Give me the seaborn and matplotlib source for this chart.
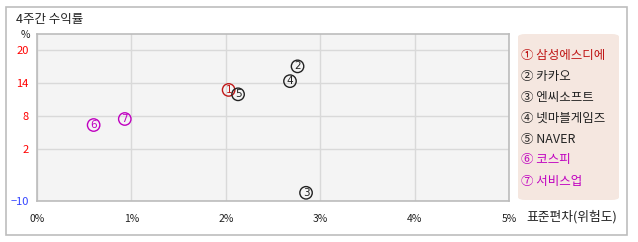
import numpy as np
import pandas as pd
import matplotlib
matplotlib.use("Agg")
import matplotlib.pyplot as plt
from matplotlib.patches import FancyBboxPatch, Rectangle
import seaborn as sns

names = ["삼성에스디에", "카카오", "엔씨소프트", "넷마블게임즈", "NAVER", "코스피", "서비스업"]
marks = ["①", "②", "③", "④", "⑤", "⑥", "⑦"]
digits = ["1", "2", "3", "4", "5", "6", "7"]
risk = [2.03, 2.76, 2.85, 2.68, 2.13, 0.60, 0.93]
ret = [12.8, 17.1, -8.1, 14.4, 12.0, 6.4, 7.5]
colors = ["#c01818", "#222222", "#222222", "#222222", "#222222", "#c000c0", "#c000c0"]
yticks = [20, 14, 8, 2, -10]
ytick_colors = ["#ff0000", "#ff0000", "#ff0000", "#ff0000", "#3344ff"]
xticks = [0, 1, 2, 3, 4, 5]
xticklabels = ["0%", "1%", "2%", "3%", "4%", "5%"]

sns.set_style("white")
plt.rcParams["font.family"] = ["Noto Sans CJK KR", "DejaVu Sans"]

df = pd.DataFrame({"name": names, "risk": risk, "ret": ret})

fig = plt.figure(figsize=(6.38, 2.42), dpi=100)
W, H = 638, 242
# outer border
fig.patches.append(Rectangle((6 / W, 1 - 235 / H), 621 / W, 228 / H, transform=fig.transFigure,
                             fill=False, edgecolor="#bdbdbd", linewidth=1.2))
# legend box
fig.patches.append(FancyBboxPatch((518 / W, 1 - 200 / H), 101 / W, 166 / H,
                                  boxstyle="round,pad=0,rounding_size=0.012",
                                  transform=fig.transFigure, facecolor="#f5e7e0",
                                  edgecolor="none"))

ax = fig.add_axes([37 / W, 1 - 201 / H, 472 / W, 167 / H])
ax.set_facecolor("#f4f4f4")

k = 0.788
def fwd(y):
    y = np.asarray(y, dtype=float)
    return np.where(y >= 2, y, 2 + (y - 2) * k)
def inv(t):
    t = np.asarray(t, dtype=float)
    return np.where(t >= 2, t, 2 + (t - 2) / k)
ax.set_yscale("function", functions=(fwd, inv))

sns.scatterplot(data=df, x="risk", y="ret", hue="name", palette=colors, s=80,
                facecolor="none", linewidth=1.0, legend=False, ax=ax, zorder=3)
for coll in ax.collections:
    coll.set_facecolor("none")
    coll.set_edgecolor(colors)
for d, x, y, c in zip(digits, risk, ret, colors):
    ax.text(x, y, d, ha="center", va="center", fontsize=7.5, color=c, zorder=4,
            family="DejaVu Sans")

ax.set_xlim(0, 5)
ax.set_ylim(-10, 23)
ax.set_xticks(xticks)
ax.set_xticklabels(xticklabels, fontsize=7.5, color="#222222")
ax.set_yticks(yticks)
ax.set_yticklabels([str(v).replace("-", "−") for v in yticks], fontsize=8)
for lab, c in zip(ax.get_yticklabels(), ytick_colors):
    lab.set_color(c)
ax.tick_params(axis="both", length=0, pad=6)
ax.tick_params(axis="x", pad=9)
ax.grid(True, color="#d9d9d9", linewidth=1.0)
ax.set_axisbelow(True)
for sp in ax.spines.values():
    sp.set_color("#bcbcbc")
    sp.set_linewidth(1.2)
ax.set_xlabel("")
ax.set_ylabel("")

fig.text(16 / W, 1 - 20 / H, "4주간 수익률", fontsize=9, va="center", ha="left", color="#222222")
fig.text(25 / W, 1 - 35 / H, "%", fontsize=7.5, va="center", ha="center", color="#222222")
fig.text(526 / W, 1 - 217 / H, "표준편차(위험도)", fontsize=9.2, va="center", ha="left", color="#222222")

leg_y = [56, 77, 98, 118, 139, 160, 181]
for m, n, c, y in zip(marks, names, colors, leg_y):
    fig.text(521 / W, 1 - y / H, m + " " + n, fontsize=9, va="center", ha="left", color=c)

fig.savefig("out.png", dpi=100)
